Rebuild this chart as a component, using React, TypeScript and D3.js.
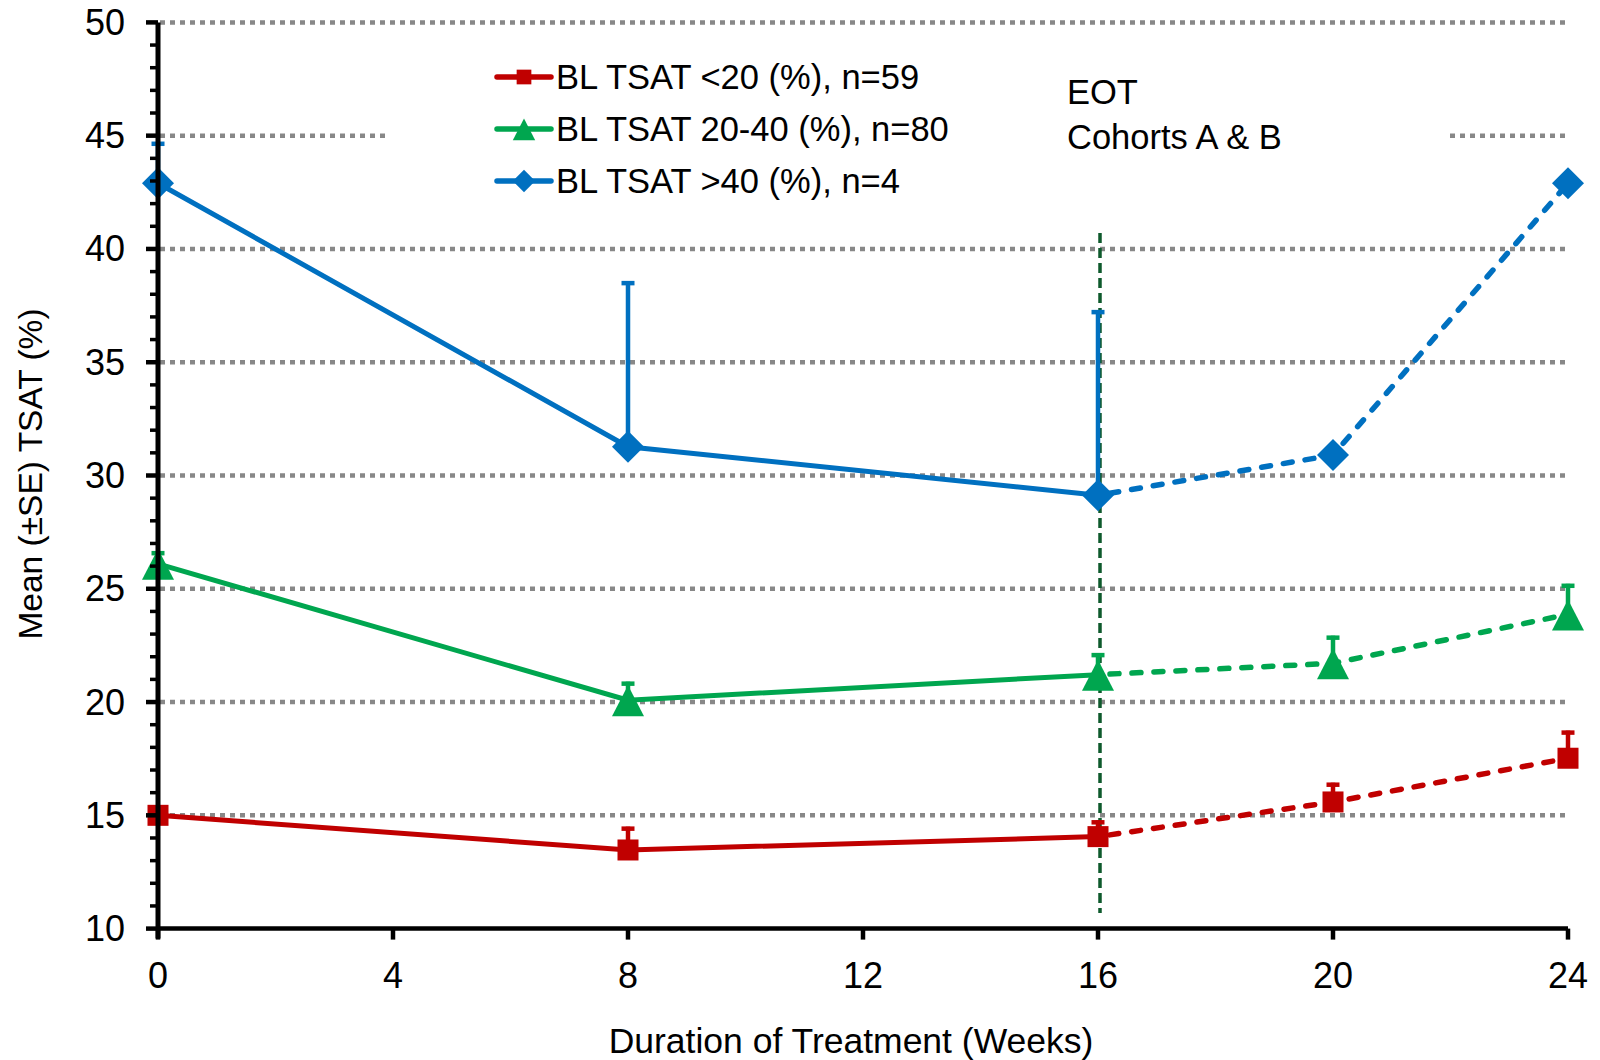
import React from 'react';
import * as d3 from 'd3';

// weeks on x axis
const weeks = [0, 8, 16, 20, 24];
const xTicks = [0, 4, 8, 12, 16, 20, 24];
const yTicks = [10, 15, 20, 25, 30, 35, 40, 45, 50];
const eotWeek = 16;

// mean values per series, plus top of the +SE bar
const lowMean = [15.0, 13.47, 14.06, 15.59, 17.52];
const lowTop = [15.3, 14.5, 14.78, 16.44, 18.74];
const midMean = [26.1, 20.08, 21.21, 21.71, 23.87];
const midTop = [26.66, 20.9, 22.16, 22.93, 25.22];
const highMean = [42.9, 31.27, 29.13, 30.9, 42.9];
const highTop = [44.73, 38.58, 37.3, null, null];

const series = [
  { label: 'BL TSAT <20 (%), n=59', color: '#C00000', marker: 'square', mean: lowMean, top: lowTop },
  { label: 'BL TSAT 20-40 (%), n=80', color: '#00A64F', marker: 'triangle', mean: midMean, top: midTop },
  { label: 'BL TSAT >40 (%), n=4', color: '#0070C0', marker: 'diamond', mean: highMean, top: highTop },
];

const W = 1600;
const H = 1060;
const font = '"Liberation Sans", Arial, sans-serif';

const x = d3.scaleLinear().domain([0, 24]).range([158, 1568]);
const y = d3.scaleLinear().domain([10, 50]).range([928.6, 22.4]);

function Marker({ type, cx, cy, color, s = 1 }: { type: string; cx: number; cy: number; color: string; s?: number }) {
  if (type === 'square') {
    const h = 10.5 * s;
    return <rect x={cx - h} y={cy - h} width={2 * h} height={2 * h} fill={color} />;
  }
  if (type === 'triangle') {
    const p = `${cx},${cy - 15 * s} ${cx + 16 * s},${cy + 16 * s} ${cx - 16 * s},${cy + 16 * s}`;
    return <polygon points={p} fill={color} />;
  }
  const r = 16 * s;
  const p = `${cx},${cy - r} ${cx + r},${cy} ${cx},${cy + r} ${cx - r},${cy}`;
  return <polygon points={p} fill={color} />;
}

export default function App() {
  const line = d3
    .line<[number, number]>()
    .x(d => x(d[0]))
    .y(d => y(d[1]));

  const minorTicks = d3.range(10, 50.5, 1).filter(v => v % 5 !== 0);
  const eotIdx = weeks.indexOf(eotWeek);

  return (
    <svg width={W} height={H} style={{ position: 'absolute', left: 0, top: 0, background: '#fff' }} fontFamily={font}>
      {/* gridlines */}
      {yTicks.filter(v => v > 10).map(v => (
        <line key={v} x1={x(0) + 2} x2={x(24)} y1={y(v)} y2={y(v)} stroke="#888" strokeWidth={4.5} strokeDasharray="5,5" />
      ))}
      {/* legend / annotation background */}
      <rect x={386} y={45} width={1061} height={162} fill="#fff" />

      {/* EOT line */}
      <line x1={x(eotWeek) + 2} x2={x(eotWeek) + 2} y1={233} y2={913} stroke="#0E5A2C" strokeWidth={3.5} strokeDasharray="10,5" />

      {/* error bars */}
      {series.map(s =>
        s.top.map((t, i) =>
          t == null ? null : (
            <g key={s.label + i}>
              <line x1={x(weeks[i])} x2={x(weeks[i])} y1={y(s.mean[i])} y2={y(t)} stroke={s.color} strokeWidth={4.5} />
              <line x1={x(weeks[i]) - 6.5} x2={x(weeks[i]) + 6.5} y1={y(t) + 2} y2={y(t) + 2} stroke={s.color} strokeWidth={4.5} />
            </g>
          )
        )
      )}

      {/* series lines */}
      {series.map(s => {
        const pts = weeks.map((w, i) => [w, s.mean[i]] as [number, number]);
        return (
          <g key={s.label}>
            <path d={line(pts.slice(0, eotIdx + 1)) || ''} fill="none" stroke={s.color} strokeWidth={5} />
            <path
              d={line(pts.slice(eotIdx)) || ''}
              fill="none"
              stroke={s.color}
              strokeWidth={5.5}
              strokeDasharray="9,13"
              strokeDashoffset={-12}
              strokeLinecap="round"
            />
            {pts.map((p, i) => (
              <Marker key={i} type={s.marker} cx={x(p[0])} cy={y(p[1])} color={s.color} />
            ))}
          </g>
        );
      })}

      {/* axes */}
      <line x1={x(0)} x2={x(0)} y1={y(50)} y2={y(10) + 10} stroke="#000" strokeWidth={5} />
      <line x1={x(0)} x2={x(24)} y1={y(10)} y2={y(10)} stroke="#000" strokeWidth={4.5} />
      {yTicks.map(v => (
        <line key={v} x1={x(0) - 12} x2={x(0)} y1={y(v)} y2={y(v)} stroke="#000" strokeWidth={4.5} />
      ))}
      {minorTicks.map(v => (
        <line key={v} x1={x(0) - 8} x2={x(0)} y1={y(v)} y2={y(v)} stroke="#000" strokeWidth={3.5} />
      ))}
      {xTicks.map(v => (
        <line key={v} x1={x(v)} x2={x(v)} y1={y(10)} y2={y(10) + 11} stroke="#000" strokeWidth={4.5} />
      ))}
      {yTicks.map(v => (
        <text key={v} x={125} y={y(v) + 12.5} textAnchor="end" fontSize={36} fill="#000">
          {v}
        </text>
      ))}
      {xTicks.map(v => (
        <text key={v} x={x(v)} y={988} textAnchor="middle" fontSize={36} fill="#000">
          {v}
        </text>
      ))}

      {/* axis titles */}
      <text x={851} y={1053} textAnchor="middle" fontSize={35.5} fill="#000">
        Duration of Treatment (Weeks)
      </text>
      <text transform="translate(42,474) rotate(-90)" textAnchor="middle" fontSize={33.5} fill="#000">
        Mean (±SE) TSAT (%)
      </text>

      {/* legend */}
      {series.map((s, i) => {
        const cy = 77 + i * 52;
        return (
          <g key={s.label}>
            <line x1={497} x2={551} y1={cy} y2={cy} stroke={s.color} strokeWidth={5.5} strokeLinecap="round" />
            <Marker type={s.marker} cx={524} cy={cy} color={s.color} s={0.7} />
            <text x={556} y={cy + 12} fontSize={34.5} fill="#000">
              {s.label}
            </text>
          </g>
        );
      })}

      {/* annotation */}
      <text x={1067} y={104} fontSize={34.5} fill="#000">EOT</text>
      <text x={1067} y={149} fontSize={34.5} fill="#000">Cohorts A &amp; B</text>
    </svg>
  );
}
